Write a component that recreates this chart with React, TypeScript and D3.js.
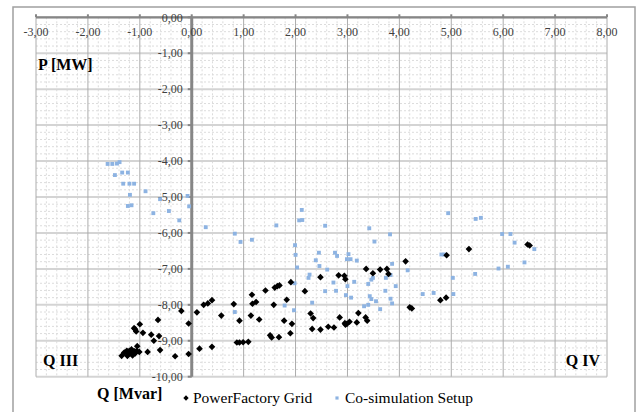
import * as d3 from "d3";

// PowerFactory Grid (black diamonds): Q [Mvar], P [MW]
const pfQ = [
  -1.35, -1.3, -1.25, -1.22, -1.2, -1.18, -1.16, -1.14, -1.11, -1.09, -1.05, -1.06, -1.01, -1.24,
  -1.11, -1.07, -1.09, -1.0, -0.94, -0.78, -0.73, -0.63, -0.61, -0.85, -0.65, -0.32, -0.2, -0.06,
  -0.06, 0.1, 0.15, 0.23, 0.31, 0.39, 0.39, 0.57, 0.81, 0.92, 0.87, 0.92, 0.99, 1.09, 1.16, 1.17,
  1.24, 1.14, 1.3, 1.42, 1.6, 1.65, 1.69, 1.91, 1.58, 1.83, 1.78, 1.93, 1.9, 1.51, 1.54, 1.68,
  2.18, 2.48, 2.83, 2.94, 2.96, 3.36, 3.49, 3.63, 3.76, 3.79, 4.12, 2.29, 2.34, 2.32, 2.48, 2.63,
  2.74, 2.85, 2.95, 2.96, 2.99, 3.04, 3.18, 3.21, 3.35, 3.38, 4.2, 4.24, 4.79, 4.9, 4.91, 5.34,
  6.51, 6.47,
];
const pfP = [
  -9.42, -9.33, -9.28, -9.38, -9.28, -9.34, -9.24, -9.41, -9.29, -9.35, -9.15, -9.28, -9.31, -9.42,
  -8.65, -8.74, -8.68, -8.54, -8.78, -8.83, -9.0, -8.87, -9.26, -9.31, -8.42, -9.43, -8.17, -8.52,
  -9.37, -8.21, -9.22, -8.0, -7.96, -7.87, -9.17, -8.3, -7.98, -8.44, -9.05, -9.05, -9.04, -9.03, -7.72, -7.97,
  -7.92, -8.3, -8.41, -7.6, -7.52, -7.48, -7.46, -7.37, -8.0, -7.86, -8.44, -8.53, -8.79, -8.85, -8.91, -8.9,
  -7.62, -7.23, -7.18, -7.19, -7.29, -7.0, -7.12, -7.02, -7.0, -7.14, -6.79, -8.24, -8.37, -8.67, -8.69, -8.61,
  -8.63, -8.35, -8.51, -8.55, -8.53, -8.47, -8.49, -8.23, -8.35, -8.44, -8.07, -8.1, -7.87, -7.8, -6.62, -6.45,
  -6.35, -6.32,
];

// Co-simulation Setup (blue squares)
const csQ = [
  -1.62, -1.53, -1.44, -1.39, -1.48, -1.34, -1.23, -1.32, -1.2, -1.11, -1.19, -0.89, -1.23, -1.16,
  -0.74, -0.61, -0.44, -0.24, -0.08, -0.05, 0.27, 0.83, 0.94, 1.16, 1.63, 1.99, 2.0, 2.03, 2.12,
  2.07, 2.13, 2.45, 2.39, 2.46, 2.27, 2.25, 2.57, 3.42, 3.82, 3.52, 2.76, 2.8, 3.02, 2.99, 3.06,
  3.18, 3.86, 4.94, 5.47, 5.57, 5.98, 6.14, 6.22, 6.6, 6.41, 6.09, 5.91, 5.46, 5.03, 4.81, 4.87,
  4.16, 2.61, 3.49, 3.74, 3.83, 1.98, 2.73, 3.0, 3.13, 2.57, 2.78, 2.97, 3.07, 2.32, 1.79, 1.97,
  3.4, 3.46, 3.73, 3.93, 3.43, 3.46, 3.55, 3.83, 3.86, 3.4, 3.32, 3.63, 4.45, 4.66, 5.04, 0.83,
];
const csP = [
  -4.08, -4.08, -4.07, -4.03, -4.39, -4.32, -4.32, -4.63, -4.63, -4.63, -4.94, -4.84, -5.25, -5.23,
  -5.45, -5.06, -5.39, -5.65, -4.97, -5.26, -5.84, -6.02, -6.25, -6.19, -5.79, -6.34, -6.61, -6.96, -5.36,
  -5.65, -5.64, -6.55, -6.76, -6.92, -7.16, -7.25, -5.8, -5.87, -6.04, -6.24, -6.55, -6.64, -6.59, -6.73, -6.73,
  -6.77, -6.86, -5.45, -5.61, -5.58, -6.03, -6.03, -6.27, -6.45, -6.82, -6.94, -6.99, -7.14, -7.25, -6.6, -6.6,
  -7.04, -7.02, -7.25, -7.25, -7.17, -7.4, -7.38, -7.48, -7.36, -7.62, -7.61, -7.73, -7.8, -7.94, -8.02, -8.15,
  -7.42, -7.3, -7.61, -7.48, -7.76, -7.84, -7.9, -7.83, -7.96, -8.0, -8.04, -8.12, -7.7, -7.67, -7.7, -8.2,
];

const xTicks = [-3, -2, -1, 0, 1, 2, 3, 4, 5, 6, 7, 8];
const yTicks = [0, -1, -2, -3, -4, -5, -6, -7, -8, -9, -10];

const fmt = (v: number) => d3.format(".2f")(v).replace("−", "-").replace(".", ",");

const serif = "Liberation Serif, Tinos, Times New Roman, DejaVu Serif, serif";

export default function App() {
  const x = d3.scaleLinear().domain([-3, 8]).range([36, 607]);
  const y = d3.scaleLinear().domain([0, -10]).range([17.3, 376.7]);

  const minorX = d3.range(-3, 8.001, 0.2).map((v) => +v.toFixed(1)).filter((v) => !Number.isInteger(v));
  const minorY = d3.range(0, -10.001, -0.2).map((v) => +v.toFixed(1)).filter((v) => !Number.isInteger(v));

  const diamond = d3.symbol().type(d3.symbolDiamond2).size(28)();
  const square = d3.symbol().type(d3.symbolSquare).size(15)();
  const ts = { fontFamily: serif };

  return (
    <svg
      width={640}
      height={412}
      style={{ position: "absolute", left: 0, top: 0, background: "#fff", fontFamily: serif }}
    >
      <rect x={13} y={7} width={622} height={420} fill="#fff" stroke="#a0a0a0" strokeWidth={1.5} />

      {/* minor grid */}
      {minorX.map((v) => (
        <line key={"mx" + v} x1={x(v)} x2={x(v)} y1={y(0)} y2={y(-10)} stroke="#dcdcdc" strokeDasharray="2,2" />
      ))}
      {minorY.map((v) => (
        <line key={"my" + v} x1={x(-3)} x2={x(8)} y1={y(v)} y2={y(v)} stroke="#dcdcdc" strokeDasharray="2,2" />
      ))}

      {/* major grid */}
      {yTicks.map((v) => (
        <line key={"gy" + v} x1={x(-3)} x2={x(8)} y1={y(v)} y2={y(v)} stroke="#d4d4d4" strokeWidth={2} />
      ))}
      {xTicks.map((v) => (
        <line key={"gx" + v} x1={x(v)} x2={x(v)} y1={y(0)} y2={y(-10)} stroke="#acacac" strokeWidth={1} />
      ))}

      {/* axes */}
      <line x1={x(-3)} x2={x(8)} y1={y(0)} y2={y(0)} stroke="#868686" strokeWidth={2.2} />
      <line x1={x(0)} x2={x(0)} y1={y(0)} y2={y(-10)} stroke="#868686" strokeWidth={3} />
      {xTicks.map((v) => (
        <line key={"tx" + v} x1={x(v)} x2={x(v)} y1={y(0) - 3} y2={y(0)} stroke="#868686" strokeWidth={2} />
      ))}
      {yTicks.map((v) => (
        <line key={"ty" + v} x1={x(0) - 4} x2={x(0)} y1={y(v)} y2={y(v)} stroke="#868686" strokeWidth={2} />
      ))}

      {/* tick labels */}
      {xTicks.map((v) => (
        <text key={"lx" + v} style={ts} x={x(v)} y={y(0) + 19} textAnchor="middle" fontSize={12} fill="#404040">
          {fmt(v)}
        </text>
      ))}
      {yTicks.map((v) => (
        <text key={"ly" + v} style={ts} x={x(0) - 9} y={y(v)} dy="0.35em" textAnchor="end" fontSize={12} fill="#404040">
          {fmt(v)}
        </text>
      ))}

      {/* data */}
      {csQ.map((q, i) => (
        <path key={"c" + i} d={square} transform={`translate(${x(q)},${y(csP[i])})`} fill="#8db3e2" />
      ))}
      {pfQ.map((q, i) => (
        <path key={"p" + i} d={diamond} transform={`translate(${x(q)},${y(pfP[i])})`} fill="#000" />
      ))}

      {/* labels */}
      <text style={ts} x={38} y={70} fontSize={16} fontWeight="bold" fill="#000">P [MW]</text>
      <text style={ts} x={43} y={366} fontSize={16} fontWeight="bold" fill="#000">Q III</text>
      <text style={ts} x={600} y={366} fontSize={16} fontWeight="bold" textAnchor="end" fill="#000">Q IV</text>
      <text style={ts} x={97} y={399} fontSize={16} fontWeight="bold" fill="#000">Q [Mvar]</text>

      {/* legend */}
      <path d={d3.symbol().type(d3.symbolDiamond2).size(18)()} transform="translate(186,398)" fill="#000" />
      <text style={ts} x={193} y={403} fontSize={15.5} fill="#000">PowerFactory Grid</text>
      <path d={d3.symbol().type(d3.symbolSquare).size(10)()} transform="translate(337,398)" fill="#8db3e2" />
      <text style={ts} x={345} y={403} fontSize={15.5} fill="#000">Co-simulation Setup</text>
    </svg>
  );
}
